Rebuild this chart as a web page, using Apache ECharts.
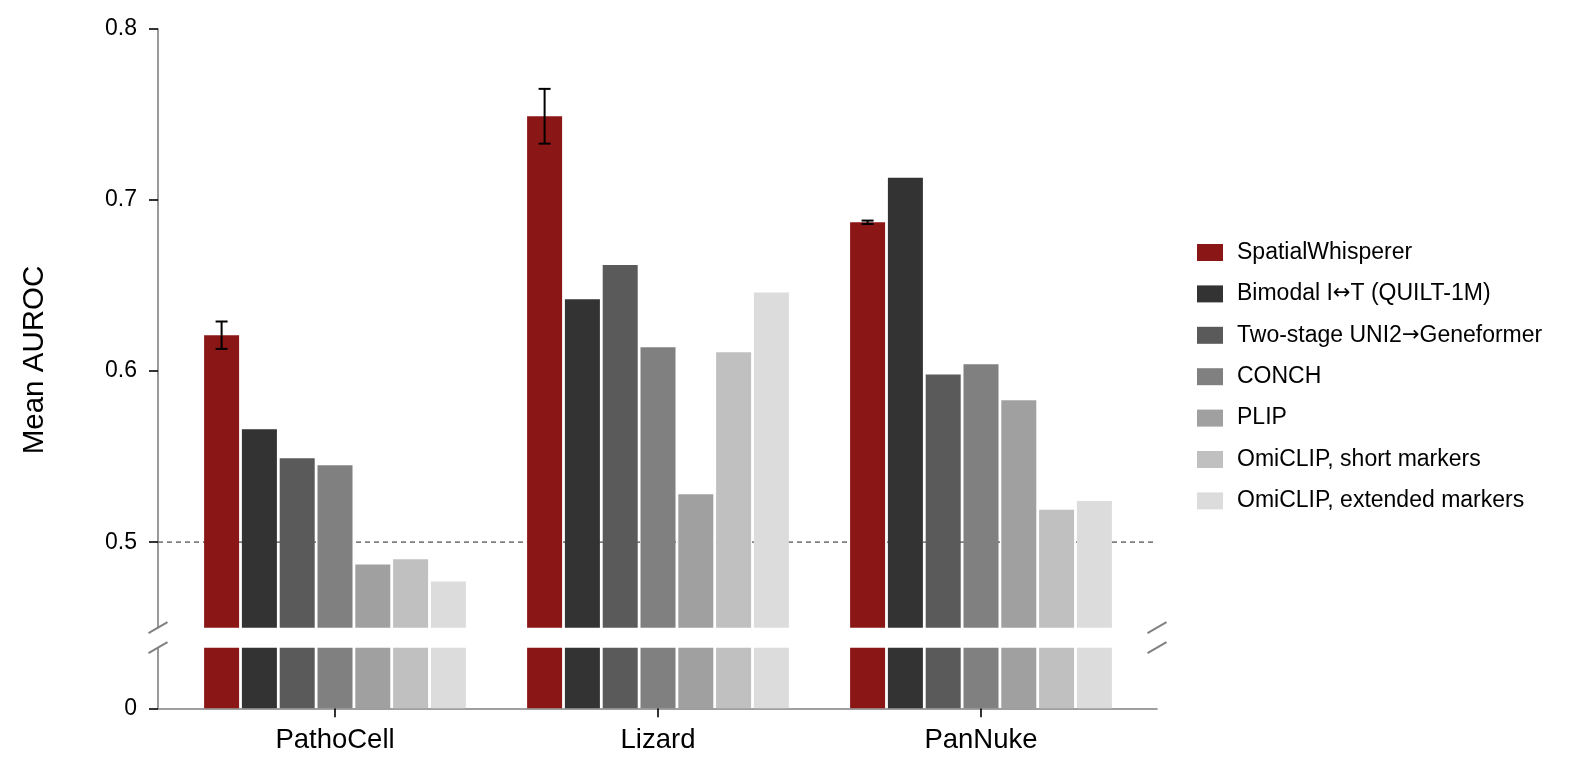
<!DOCTYPE html>
<html>
<head>
<meta charset="utf-8">
<script src="https://cdn.jsdelivr.net/npm/echarts@6/dist/echarts.min.js"></script>
<style>
html, body { margin: 0; padding: 0; background: #fff; }
#chart { width: 1585px; height: 773px; }
</style>
</head>
<body>
<div id="chart"></div>
<script>
// data
const datasets = ['PathoCell', 'Lizard', 'PanNuke'];
const methods = ['SpatialWhisperer', 'Bimodal I↔T (QUILT-1M)', 'Two-stage UNI2→Geneformer', 'CONCH', 'PLIP', 'OmiCLIP, short markers', 'OmiCLIP, extended markers'];
const spatialWhisperer = [0.621, 0.749, 0.687];
const bimodal = [0.566, 0.642, 0.713];
const twoStage = [0.549, 0.662, 0.598];
const conch = [0.545, 0.614, 0.604];
const plip = [0.487, 0.528, 0.583];
const omiShort = [0.490, 0.611, 0.519];
const omiExtended = [0.477, 0.646, 0.524];
const swError = [0.008, 0.016, 0.001];
const upperTicks = [0.5, 0.6, 0.7, 0.8];
const lowerTicks = [0];
const chanceLevel = 0.5;

const values = [spatialWhisperer, bimodal, twoStage, conch, plip, omiShort, omiExtended];
const colors = ['#8b1616', '#333333', '#5a5a5a', '#808080', '#a0a0a0', '#c0c0c0', '#dcdcdc'];

const FONT = "'Liberation Sans', Arial, sans-serif";
const BAR_W = 35;
const BAR_GAP = 0.08;
const UPPER = { top: 29, height: 598.7, min: 0.45, max: 0.8 };
const LOWER = { top: 647.7, height: 60.6, min: 0, max: 0.0354 };
const XMIN = -0.55, XMAX = 2.55;
const axisGray = '#808080';

const chart = echarts.init(document.getElementById('chart'));

let series = [];
methods.forEach((name, i) => {
    [0, 1].forEach(g => {
        series.push({
            name: name,
            type: 'bar',
            xAxisIndex: g,
            yAxisIndex: g,
            data: values[i],
            barWidth: BAR_W,
            barGap: (BAR_GAP * 100) + '%',
            clip: true,
            itemStyle: { color: colors[i] },
            z: 3
        });
    });
});

// error bars on SpatialWhisperer
series.push({
    type: 'custom',
    xAxisIndex: 0,
    yAxisIndex: 0,
    z: 5,
    silent: true,
    data: spatialWhisperer.map((v, i) => [i, v, swError[i]]),
    renderItem: function (params, api) {
        const offset = -((methods.length - 1) / 2) * BAR_W * (1 + BAR_GAP);
        const hi = api.coord([api.value(0), api.value(1) + api.value(2)]);
        const lo = api.coord([api.value(0), api.value(1) - api.value(2)]);
        const x = hi[0] + offset;
        const style = { stroke: '#000', lineWidth: 2 };
        return {
            type: 'group',
            children: [
                { type: 'line', shape: { x1: x, y1: hi[1], x2: x, y2: lo[1] }, style: style },
                { type: 'line', shape: { x1: x - 6, y1: hi[1], x2: x + 6, y2: hi[1] }, style: style },
                { type: 'line', shape: { x1: x - 6, y1: lo[1], x2: x + 6, y2: lo[1] }, style: style }
            ]
        };
    }
});

// chance line
series.push({
    type: 'line',
    xAxisIndex: 2,
    yAxisIndex: 2,
    silent: true,
    symbol: 'none',
    z: 1,
    data: [[XMIN, chanceLevel], [XMAX, chanceLevel]],
    lineStyle: { color: axisGray, width: 1.6, type: [5, 4] }
});

const hidden = { show: false };
const grayLine = { show: true, onZero: false, lineStyle: { color: axisGray, width: 1.6 } };

let option = {
    animation: false,
    textStyle: { fontFamily: FONT, color: '#000' },
    grid: [
        { left: 173.5, width: 969, top: UPPER.top, height: UPPER.height },
        { left: 173.5, width: 969, top: LOWER.top, height: LOWER.height },
        { left: 158, width: 999, top: UPPER.top, height: UPPER.height },
        { left: 158, width: 999, top: LOWER.top, height: LOWER.height }
    ],
    legend: {
        data: methods,
        orient: 'vertical',
        left: 1197,
        top: 241,
        padding: 0,
        itemWidth: 26,
        itemHeight: 17,
        itemGap: 18.4,
        icon: 'rect',
        formatter: name => name.replace(/([↔→])/g, '{arr|$1}'),
        textStyle: {
            fontSize: 23, fontFamily: FONT, color: '#000', lineHeight: 23, padding: [0, 0, 0, 9],
            rich: { arr: { fontFamily: "'DejaVu Sans'", fontSize: 21, color: '#000', lineHeight: 23 } }
        }
    },
    xAxis: [
        { type: 'category', gridIndex: 0, data: datasets, show: false },
        {
            type: 'category', gridIndex: 1, data: datasets,
            axisLine: hidden,
            axisTick: { show: true, alignWithLabel: true, length: 9, lineStyle: { color: '#000', width: 1.6 } },
            axisLabel: { fontSize: 27.5, margin: 18, color: '#000', fontFamily: FONT }
        },
        { type: 'value', gridIndex: 2, min: XMIN, max: XMAX, show: false, splitLine: hidden },
        {
            type: 'value', gridIndex: 3, min: XMIN, max: XMAX,
            axisLine: grayLine,
            axisTick: hidden, axisLabel: hidden, splitLine: hidden
        }
    ],
    yAxis: [
        { type: 'value', gridIndex: 0, min: UPPER.min, max: UPPER.max, show: false, splitLine: hidden },
        { type: 'value', gridIndex: 1, min: LOWER.min, max: LOWER.max, show: false, splitLine: hidden },
        {
            type: 'value', gridIndex: 2, min: UPPER.min, max: UPPER.max,
            axisLine: grayLine,
            axisTick: { show: true, length: 9, customValues: upperTicks, lineStyle: { color: '#000', width: 1.6 } },
            axisLabel: { customValues: upperTicks, fontSize: 23, margin: 21, color: '#000', fontFamily: FONT },
            splitLine: hidden
        },
        {
            type: 'value', gridIndex: 3, min: LOWER.min, max: LOWER.max,
            axisLine: grayLine,
            axisTick: { show: true, length: 9, customValues: lowerTicks, lineStyle: { color: '#000', width: 1.6 } },
            axisLabel: { customValues: lowerTicks, showMinLabel: true, fontSize: 23, margin: 21, color: '#000', fontFamily: FONT },
            splitLine: hidden
        }
    ],
    series: series
};

chart.setOption(option);

// axis break marks and y title
const corners = [
    chart.convertToPixel({ xAxisIndex: 2, yAxisIndex: 2 }, [XMIN, UPPER.min]),
    chart.convertToPixel({ xAxisIndex: 2, yAxisIndex: 2 }, [XMAX, UPPER.min]),
    chart.convertToPixel({ xAxisIndex: 3, yAxisIndex: 3 }, [XMIN, LOWER.max]),
    chart.convertToPixel({ xAxisIndex: 3, yAxisIndex: 3 }, [XMAX, LOWER.max])
];
let graphics = corners.map(c => ({
    type: 'line',
    silent: true,
    shape: { x1: c[0] - 9.5, y1: c[1] + 5.5, x2: c[0] + 9.5, y2: c[1] - 5.5 },
    style: { stroke: axisGray, lineWidth: 2 }
}));
graphics.push({
    type: 'text',
    x: 35,
    y: 360,
    rotation: Math.PI / 2,
    style: {
        text: 'Mean AUROC',
        fontSize: 29.5,
        fontFamily: FONT,
        fill: '#000',
        align: 'center',
        verticalAlign: 'middle',
        textAlign: 'center',
        textVerticalAlign: 'middle'
    }
});
chart.setOption({ graphic: graphics });
</script>
</body>
</html>
